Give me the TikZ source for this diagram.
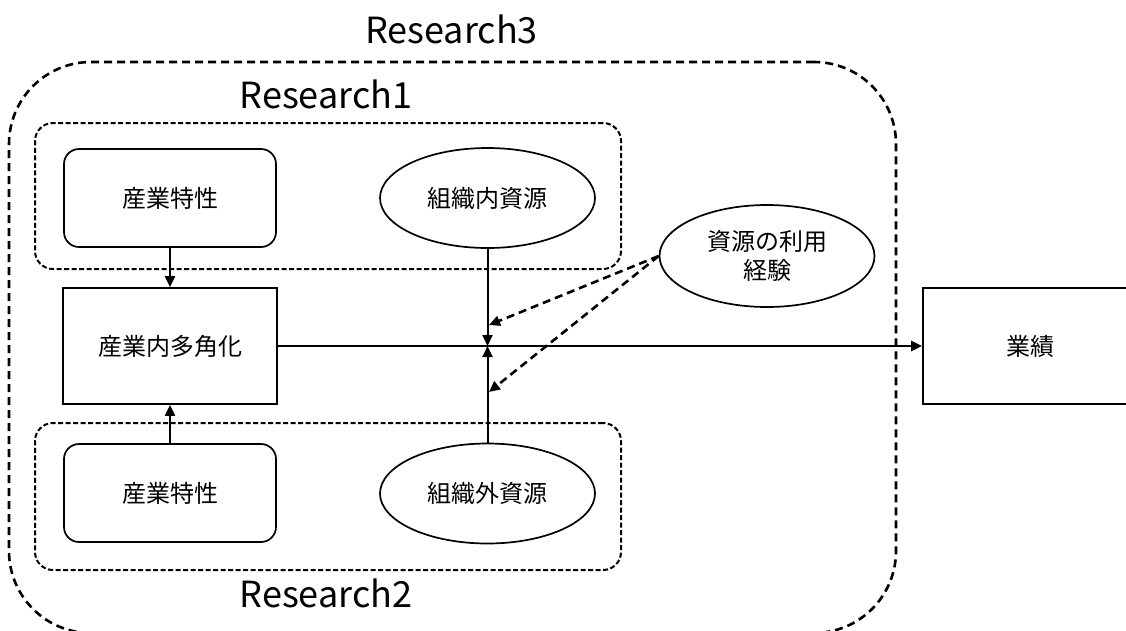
\documentclass[tikz,border=0pt]{standalone}
\usepackage{fontspec}
\setmainfont{Noto Sans CJK JP}
\usetikzlibrary{shapes.geometric,arrows.meta}
\begin{document}
\begin{tikzpicture}[x=1pt,y=-1pt,
 box/.style={draw,line width=1.7pt,minimum width=212pt,minimum height=98pt,inner sep=0pt,font=\fontsize{24}{29}\selectfont},
 rbox/.style={box,rounded corners=15pt},
 sbox/.style={box,minimum width=214pt,minimum height=116pt},
 oval/.style={draw,ellipse,line width=1.7pt,minimum width=215pt,minimum height=100pt,inner sep=0pt,font=\fontsize{24}{29}\selectfont,align=center},
 grp/.style={draw,line width=2pt,dash pattern=on 5pt off 2.5pt,rounded corners=18pt,inner sep=0pt,minimum width=586pt,minimum height=146pt},
 outer/.style={draw,line width=2.6pt,dash pattern=on 8pt off 5pt,rounded corners=82pt,inner sep=0pt,minimum width=887pt,minimum height=571pt},
 lbl/.style={font=\fontsize{36}{40}\selectfont,anchor=base,inner sep=0pt},
 arr/.style={line width=2pt,-{Triangle[length=11pt,width=10pt]}},
 marr/.style={line width=2.6pt,-{Triangle[length=11pt,width=10pt]}},
 darr/.style={line width=2.6pt,dash pattern=on 8pt off 5pt,-{Triangle[length=11pt,width=10pt]}},
]
\useasboundingbox (0,0) rectangle (1126,630);
\clip (0,0) rectangle (1126,630);
\fill[white] (0,0) rectangle (1126,630);

% group boxes
\node[outer] (r3) at (452.5,347.5) {};
\node[grp] (r1) at (328,196) {};
\node[grp,minimum height=147pt] (r2) at (328,496.5) {};

% labels
\node[lbl] (l3) at (451.5,43) {Research3};
\node[lbl] (l1) at (326,108) {Research1};
\node[lbl] (l2) at (326,607) {Research2};

% nodes
\node[rbox] (ind1) at (170,198) {産業特性};
\node[rbox] (ind2) at (170,493) {産業特性};
\node[sbox] (div) at (170,346) {産業内多角化};
\node[sbox] (perf) at (1030,346) {業績};
\node[oval] (inres) at (487.5,198) {組織内資源};
\node[oval] (exres) at (487.5,493.5) {組織外資源};
\node[oval,minimum height=102pt] (exp) at (767,256) {資源の利用\\経験};

% connectors
\coordinate (jn) at (487.5,346);
\coordinate (t1) at (489,325);
\coordinate (t2) at (489,392);
\draw[arr] (ind1) -- (div);
\draw[arr] (ind2) -- (div);
\draw[marr] (div) -- (perf);
\draw[arr] (inres.south) -- (jn);
\draw[arr] (exres.north) -- (jn);
\draw[darr] (exp.west) -- (t1);
\draw[darr] (exp.west) -- (t2);
\end{tikzpicture}
\end{document}
